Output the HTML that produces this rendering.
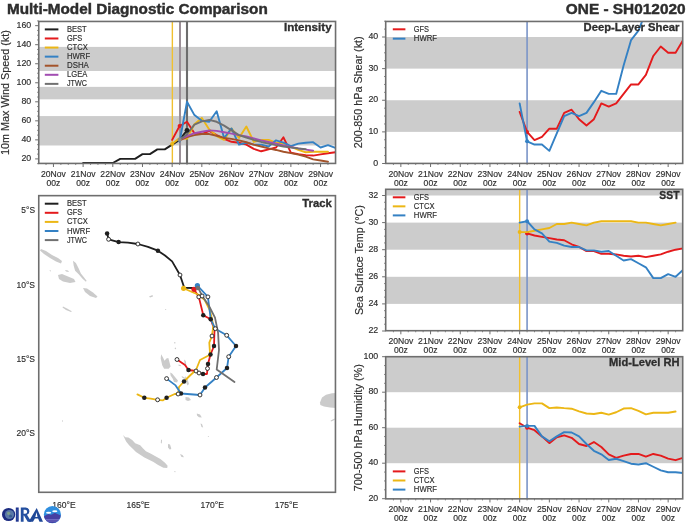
<!DOCTYPE html><html><head><meta charset="utf-8"><style>html,body{margin:0;padding:0;background:#fff;}svg{display:block;}</style></head><body>
<svg width="700" height="525" viewBox="0 0 700 525" style="will-change:transform" font-family='"Liberation Sans", sans-serif'>
<rect width="700" height="525" fill="#fff"/>
<text x="7" y="13.9" font-size="14.3" text-anchor="start" font-weight="bold" fill="#2e2e2e" textLength="260.72" lengthAdjust="spacingAndGlyphs" stroke="#2e2e2e" stroke-width="0.43">Multi-Model Diagnostic Comparison</text>
<text x="685.6" y="13.9" font-size="14.3" text-anchor="end" font-weight="bold" fill="#2e2e2e" textLength="119.77" lengthAdjust="spacingAndGlyphs" stroke="#2e2e2e" stroke-width="0.43">ONE - SH012020</text>
<rect x="38.75" y="116.08" width="296.8" height="29.41" fill="#cccccc"/>
<rect x="38.75" y="86.86" width="296.8" height="12.47" fill="#cccccc"/>
<rect x="38.75" y="46.89" width="296.8" height="24.08" fill="#cccccc"/>
<line x1="172.36" y1="21.45" x2="172.36" y2="163.43" stroke="#f0c030" stroke-width="1.4"/>
<line x1="179.98" y1="21.45" x2="179.98" y2="163.43" stroke="#9c9098" stroke-width="2"/>
<line x1="187" y1="21.45" x2="187" y2="163.43" stroke="#6d6d6d" stroke-width="2.1"/>
<svg x="38.75" y="21.45" width="296.8" height="143.48" overflow="hidden"><g transform="translate(-38.75,-21.45)">
<polyline points="83.12,162.99 90.54,162.99 97.96,162.99 105.38,162.99 112.8,162.99 120.22,158.9 127.64,158.9 135.06,158.9 142.48,154.14 149.9,154.14 157.32,149.38 164.74,149.38 172.16,144.63 179.58,139.87 187,130.35" fill="none" stroke="#1f1f1f" stroke-width="1.9" stroke-linejoin="round" stroke-linecap="round"/>
<polyline points="172.16,139.87 179.58,126.07 187,121.79 194.42,133.21 201.84,134.16 209.26,130.83 216.68,135.11 224.1,138.92 231.52,141.77 238.94,142.72 246.36,144.63 253.78,148.91 261.2,151.29 268.62,149.38 276.04,147.48 283.46,137.3 290.88,152.71 298.3,154.14 305.72,155.09 313.14,155.57 320.56,154.33 327.98,153.19 335.4,152.24" fill="none" stroke="#e41a1c" stroke-width="1.9" stroke-linejoin="round" stroke-linecap="round"/>
<circle cx="179.58" cy="126.07" r="2" fill="#e41a1c"/>
<polyline points="172.16,144.05 179.58,137.96 187,138.92 194.42,124.17 201.84,117.98 209.26,129.4 216.68,136.06 224.1,139.87 231.52,128.45 238.94,137.96 246.36,126.54 253.78,141.77 261.2,139.87 268.62,139.87 276.04,142.72 283.46,143.67 290.88,146.53 298.3,149.86 305.72,152.24 313.14,151.76 320.56,151.76 327.98,151.76" fill="none" stroke="#ecb715" stroke-width="1.9" stroke-linejoin="round" stroke-linecap="round"/>
<circle cx="172.16" cy="144.05" r="2" fill="#ecb715"/>
<polyline points="179.58,141.77 187,101.8 194.42,115.12 201.84,120.83 209.26,121.79 216.68,111.32 224.1,137.96 231.52,128.45 238.94,144.63 246.36,142.72 253.78,144.63 261.2,144.63 268.62,146.53 276.04,140.34 283.46,142.72 290.88,146.05 298.3,143.67 305.72,142.72 313.14,142.15 320.56,147.48 327.98,145.1 335.4,147.96" fill="none" stroke="#3481c4" stroke-width="1.9" stroke-linejoin="round" stroke-linecap="round"/>
<polyline points="179.58,140.34 187,137.01 194.42,135.11 201.84,134.06 209.26,134.06 216.68,135.78 224.1,137.96 231.52,138.92 238.94,140.34 246.36,142.25 253.78,144.63 261.2,146.53 268.62,148.43 276.04,149.95 283.46,151.76 290.88,153.19 298.3,154.62 305.72,156.52 313.14,159.38 320.56,160.52 327.98,161.75" fill="none" stroke="#a3532a" stroke-width="1.9" stroke-linejoin="round" stroke-linecap="round"/>
<polyline points="179.58,139.39 187,136.06 194.42,133.21 201.84,131.78 209.26,130.35 216.68,130.92 224.1,132.25 231.52,133.68 238.94,135.11 246.36,136.54 253.78,138.44 261.2,140.34 268.62,141.96 276.04,143.67 283.46,145.39 290.88,147 298.3,148.43 305.72,149.57 313.14,150.72" fill="none" stroke="#a24db2" stroke-width="1.9" stroke-linejoin="round" stroke-linecap="round"/>
<polyline points="179.58,139.87 187,134.16 194.42,124.64 201.84,121.31 209.26,119.88 216.68,121.79 224.1,125.59 231.52,130.35 238.94,135.11 246.36,137.49 253.78,139.87 261.2,141.96 268.62,143.67 276.04,145.1 283.46,146.53 290.88,147.48 298.3,148.43 305.72,149.1" fill="none" stroke="#707070" stroke-width="1.9" stroke-linejoin="round" stroke-linecap="round"/>
<circle cx="179.58" cy="139.87" r="2" fill="#8a8a8a"/>
<circle cx="187" cy="130.35" r="2.4" fill="#1f1f1f"/>
</g></svg>
<rect x="38.75" y="21.45" width="296.8" height="141.98" fill="none" stroke="#6e6e6e" stroke-width="1.6"/>
<line x1="37.05" y1="163.66" x2="38.75" y2="163.66" stroke="#6e6e6e" stroke-width="0.8"/>
<line x1="37.05" y1="154.14" x2="38.75" y2="154.14" stroke="#6e6e6e" stroke-width="0.8"/>
<line x1="37.05" y1="149.38" x2="38.75" y2="149.38" stroke="#6e6e6e" stroke-width="0.8"/>
<line x1="37.05" y1="144.63" x2="38.75" y2="144.63" stroke="#6e6e6e" stroke-width="0.8"/>
<line x1="37.05" y1="135.11" x2="38.75" y2="135.11" stroke="#6e6e6e" stroke-width="0.8"/>
<line x1="37.05" y1="130.35" x2="38.75" y2="130.35" stroke="#6e6e6e" stroke-width="0.8"/>
<line x1="37.05" y1="125.59" x2="38.75" y2="125.59" stroke="#6e6e6e" stroke-width="0.8"/>
<line x1="37.05" y1="116.08" x2="38.75" y2="116.08" stroke="#6e6e6e" stroke-width="0.8"/>
<line x1="37.05" y1="111.32" x2="38.75" y2="111.32" stroke="#6e6e6e" stroke-width="0.8"/>
<line x1="37.05" y1="106.56" x2="38.75" y2="106.56" stroke="#6e6e6e" stroke-width="0.8"/>
<line x1="37.05" y1="97.04" x2="38.75" y2="97.04" stroke="#6e6e6e" stroke-width="0.8"/>
<line x1="37.05" y1="92.28" x2="38.75" y2="92.28" stroke="#6e6e6e" stroke-width="0.8"/>
<line x1="37.05" y1="87.53" x2="38.75" y2="87.53" stroke="#6e6e6e" stroke-width="0.8"/>
<line x1="37.05" y1="78.01" x2="38.75" y2="78.01" stroke="#6e6e6e" stroke-width="0.8"/>
<line x1="37.05" y1="73.25" x2="38.75" y2="73.25" stroke="#6e6e6e" stroke-width="0.8"/>
<line x1="37.05" y1="68.49" x2="38.75" y2="68.49" stroke="#6e6e6e" stroke-width="0.8"/>
<line x1="37.05" y1="58.98" x2="38.75" y2="58.98" stroke="#6e6e6e" stroke-width="0.8"/>
<line x1="37.05" y1="54.22" x2="38.75" y2="54.22" stroke="#6e6e6e" stroke-width="0.8"/>
<line x1="37.05" y1="49.46" x2="38.75" y2="49.46" stroke="#6e6e6e" stroke-width="0.8"/>
<line x1="37.05" y1="39.94" x2="38.75" y2="39.94" stroke="#6e6e6e" stroke-width="0.8"/>
<line x1="37.05" y1="35.19" x2="38.75" y2="35.19" stroke="#6e6e6e" stroke-width="0.8"/>
<line x1="37.05" y1="30.43" x2="38.75" y2="30.43" stroke="#6e6e6e" stroke-width="0.8"/>
<line x1="37.05" y1="20.91" x2="38.75" y2="20.91" stroke="#6e6e6e" stroke-width="0.8"/>
<line x1="35.15" y1="158.9" x2="38.75" y2="158.9" stroke="#6e6e6e" stroke-width="1"/>
<text x="31.25" y="161" font-size="8.16" text-anchor="end" font-weight="normal" fill="#2e2e2e" textLength="9.8" lengthAdjust="spacingAndGlyphs" stroke="#2e2e2e" stroke-width="0.15">20</text>
<line x1="35.15" y1="139.87" x2="38.75" y2="139.87" stroke="#6e6e6e" stroke-width="1"/>
<text x="31.25" y="141.97" font-size="8.16" text-anchor="end" font-weight="normal" fill="#2e2e2e" textLength="9.8" lengthAdjust="spacingAndGlyphs" stroke="#2e2e2e" stroke-width="0.15">40</text>
<line x1="35.15" y1="120.83" x2="38.75" y2="120.83" stroke="#6e6e6e" stroke-width="1"/>
<text x="31.25" y="122.93" font-size="8.16" text-anchor="end" font-weight="normal" fill="#2e2e2e" textLength="9.8" lengthAdjust="spacingAndGlyphs" stroke="#2e2e2e" stroke-width="0.15">60</text>
<line x1="35.15" y1="101.8" x2="38.75" y2="101.8" stroke="#6e6e6e" stroke-width="1"/>
<text x="31.25" y="103.9" font-size="8.16" text-anchor="end" font-weight="normal" fill="#2e2e2e" textLength="9.8" lengthAdjust="spacingAndGlyphs" stroke="#2e2e2e" stroke-width="0.15">80</text>
<line x1="35.15" y1="82.77" x2="38.75" y2="82.77" stroke="#6e6e6e" stroke-width="1"/>
<text x="31.25" y="84.87" font-size="8.16" text-anchor="end" font-weight="normal" fill="#2e2e2e" textLength="14.7" lengthAdjust="spacingAndGlyphs" stroke="#2e2e2e" stroke-width="0.15">100</text>
<line x1="35.15" y1="63.74" x2="38.75" y2="63.74" stroke="#6e6e6e" stroke-width="1"/>
<text x="31.25" y="65.84" font-size="8.16" text-anchor="end" font-weight="normal" fill="#2e2e2e" textLength="14.7" lengthAdjust="spacingAndGlyphs" stroke="#2e2e2e" stroke-width="0.15">120</text>
<line x1="35.15" y1="44.7" x2="38.75" y2="44.7" stroke="#6e6e6e" stroke-width="1"/>
<text x="31.25" y="46.8" font-size="8.16" text-anchor="end" font-weight="normal" fill="#2e2e2e" textLength="14.7" lengthAdjust="spacingAndGlyphs" stroke="#2e2e2e" stroke-width="0.15">140</text>
<line x1="35.15" y1="25.67" x2="38.75" y2="25.67" stroke="#6e6e6e" stroke-width="1"/>
<text x="31.25" y="27.77" font-size="8.16" text-anchor="end" font-weight="normal" fill="#2e2e2e" textLength="14.7" lengthAdjust="spacingAndGlyphs" stroke="#2e2e2e" stroke-width="0.15">160</text>
<line x1="46.02" y1="163.43" x2="46.02" y2="165.03" stroke="#6e6e6e" stroke-width="0.8"/>
<line x1="53.44" y1="163.43" x2="53.44" y2="167.03" stroke="#6e6e6e" stroke-width="1"/>
<line x1="60.86" y1="163.43" x2="60.86" y2="165.03" stroke="#6e6e6e" stroke-width="0.8"/>
<line x1="68.28" y1="163.43" x2="68.28" y2="165.03" stroke="#6e6e6e" stroke-width="0.8"/>
<line x1="75.7" y1="163.43" x2="75.7" y2="165.03" stroke="#6e6e6e" stroke-width="0.8"/>
<line x1="83.12" y1="163.43" x2="83.12" y2="167.03" stroke="#6e6e6e" stroke-width="1"/>
<line x1="90.54" y1="163.43" x2="90.54" y2="165.03" stroke="#6e6e6e" stroke-width="0.8"/>
<line x1="97.96" y1="163.43" x2="97.96" y2="165.03" stroke="#6e6e6e" stroke-width="0.8"/>
<line x1="105.38" y1="163.43" x2="105.38" y2="165.03" stroke="#6e6e6e" stroke-width="0.8"/>
<line x1="112.8" y1="163.43" x2="112.8" y2="167.03" stroke="#6e6e6e" stroke-width="1"/>
<line x1="120.22" y1="163.43" x2="120.22" y2="165.03" stroke="#6e6e6e" stroke-width="0.8"/>
<line x1="127.64" y1="163.43" x2="127.64" y2="165.03" stroke="#6e6e6e" stroke-width="0.8"/>
<line x1="135.06" y1="163.43" x2="135.06" y2="165.03" stroke="#6e6e6e" stroke-width="0.8"/>
<line x1="142.48" y1="163.43" x2="142.48" y2="167.03" stroke="#6e6e6e" stroke-width="1"/>
<line x1="149.9" y1="163.43" x2="149.9" y2="165.03" stroke="#6e6e6e" stroke-width="0.8"/>
<line x1="157.32" y1="163.43" x2="157.32" y2="165.03" stroke="#6e6e6e" stroke-width="0.8"/>
<line x1="164.74" y1="163.43" x2="164.74" y2="165.03" stroke="#6e6e6e" stroke-width="0.8"/>
<line x1="172.16" y1="163.43" x2="172.16" y2="167.03" stroke="#6e6e6e" stroke-width="1"/>
<line x1="179.58" y1="163.43" x2="179.58" y2="165.03" stroke="#6e6e6e" stroke-width="0.8"/>
<line x1="187" y1="163.43" x2="187" y2="165.03" stroke="#6e6e6e" stroke-width="0.8"/>
<line x1="194.42" y1="163.43" x2="194.42" y2="165.03" stroke="#6e6e6e" stroke-width="0.8"/>
<line x1="201.84" y1="163.43" x2="201.84" y2="167.03" stroke="#6e6e6e" stroke-width="1"/>
<line x1="209.26" y1="163.43" x2="209.26" y2="165.03" stroke="#6e6e6e" stroke-width="0.8"/>
<line x1="216.68" y1="163.43" x2="216.68" y2="165.03" stroke="#6e6e6e" stroke-width="0.8"/>
<line x1="224.1" y1="163.43" x2="224.1" y2="165.03" stroke="#6e6e6e" stroke-width="0.8"/>
<line x1="231.52" y1="163.43" x2="231.52" y2="167.03" stroke="#6e6e6e" stroke-width="1"/>
<line x1="238.94" y1="163.43" x2="238.94" y2="165.03" stroke="#6e6e6e" stroke-width="0.8"/>
<line x1="246.36" y1="163.43" x2="246.36" y2="165.03" stroke="#6e6e6e" stroke-width="0.8"/>
<line x1="253.78" y1="163.43" x2="253.78" y2="165.03" stroke="#6e6e6e" stroke-width="0.8"/>
<line x1="261.2" y1="163.43" x2="261.2" y2="167.03" stroke="#6e6e6e" stroke-width="1"/>
<line x1="268.62" y1="163.43" x2="268.62" y2="165.03" stroke="#6e6e6e" stroke-width="0.8"/>
<line x1="276.04" y1="163.43" x2="276.04" y2="165.03" stroke="#6e6e6e" stroke-width="0.8"/>
<line x1="283.46" y1="163.43" x2="283.46" y2="165.03" stroke="#6e6e6e" stroke-width="0.8"/>
<line x1="290.88" y1="163.43" x2="290.88" y2="167.03" stroke="#6e6e6e" stroke-width="1"/>
<line x1="298.3" y1="163.43" x2="298.3" y2="165.03" stroke="#6e6e6e" stroke-width="0.8"/>
<line x1="305.72" y1="163.43" x2="305.72" y2="165.03" stroke="#6e6e6e" stroke-width="0.8"/>
<line x1="313.14" y1="163.43" x2="313.14" y2="165.03" stroke="#6e6e6e" stroke-width="0.8"/>
<line x1="320.56" y1="163.43" x2="320.56" y2="167.03" stroke="#6e6e6e" stroke-width="1"/>
<line x1="327.98" y1="163.43" x2="327.98" y2="165.03" stroke="#6e6e6e" stroke-width="0.8"/>
<text x="53.44" y="176.83" font-size="8.16" text-anchor="middle" font-weight="normal" fill="#2e2e2e" textLength="24.83" lengthAdjust="spacingAndGlyphs" stroke="#2e2e2e" stroke-width="0.15">20Nov</text>
<text x="53.44" y="185.73" font-size="8.16" text-anchor="middle" font-weight="normal" fill="#2e2e2e" textLength="13.84" lengthAdjust="spacingAndGlyphs" stroke="#2e2e2e" stroke-width="0.15">00z</text>
<text x="83.12" y="176.83" font-size="8.16" text-anchor="middle" font-weight="normal" fill="#2e2e2e" textLength="24.83" lengthAdjust="spacingAndGlyphs" stroke="#2e2e2e" stroke-width="0.15">21Nov</text>
<text x="83.12" y="185.73" font-size="8.16" text-anchor="middle" font-weight="normal" fill="#2e2e2e" textLength="13.84" lengthAdjust="spacingAndGlyphs" stroke="#2e2e2e" stroke-width="0.15">00z</text>
<text x="112.8" y="176.83" font-size="8.16" text-anchor="middle" font-weight="normal" fill="#2e2e2e" textLength="24.83" lengthAdjust="spacingAndGlyphs" stroke="#2e2e2e" stroke-width="0.15">22Nov</text>
<text x="112.8" y="185.73" font-size="8.16" text-anchor="middle" font-weight="normal" fill="#2e2e2e" textLength="13.84" lengthAdjust="spacingAndGlyphs" stroke="#2e2e2e" stroke-width="0.15">00z</text>
<text x="142.48" y="176.83" font-size="8.16" text-anchor="middle" font-weight="normal" fill="#2e2e2e" textLength="24.83" lengthAdjust="spacingAndGlyphs" stroke="#2e2e2e" stroke-width="0.15">23Nov</text>
<text x="142.48" y="185.73" font-size="8.16" text-anchor="middle" font-weight="normal" fill="#2e2e2e" textLength="13.84" lengthAdjust="spacingAndGlyphs" stroke="#2e2e2e" stroke-width="0.15">00z</text>
<text x="172.16" y="176.83" font-size="8.16" text-anchor="middle" font-weight="normal" fill="#2e2e2e" textLength="24.83" lengthAdjust="spacingAndGlyphs" stroke="#2e2e2e" stroke-width="0.15">24Nov</text>
<text x="172.16" y="185.73" font-size="8.16" text-anchor="middle" font-weight="normal" fill="#2e2e2e" textLength="13.84" lengthAdjust="spacingAndGlyphs" stroke="#2e2e2e" stroke-width="0.15">00z</text>
<text x="201.84" y="176.83" font-size="8.16" text-anchor="middle" font-weight="normal" fill="#2e2e2e" textLength="24.83" lengthAdjust="spacingAndGlyphs" stroke="#2e2e2e" stroke-width="0.15">25Nov</text>
<text x="201.84" y="185.73" font-size="8.16" text-anchor="middle" font-weight="normal" fill="#2e2e2e" textLength="13.84" lengthAdjust="spacingAndGlyphs" stroke="#2e2e2e" stroke-width="0.15">00z</text>
<text x="231.52" y="176.83" font-size="8.16" text-anchor="middle" font-weight="normal" fill="#2e2e2e" textLength="24.83" lengthAdjust="spacingAndGlyphs" stroke="#2e2e2e" stroke-width="0.15">26Nov</text>
<text x="231.52" y="185.73" font-size="8.16" text-anchor="middle" font-weight="normal" fill="#2e2e2e" textLength="13.84" lengthAdjust="spacingAndGlyphs" stroke="#2e2e2e" stroke-width="0.15">00z</text>
<text x="261.2" y="176.83" font-size="8.16" text-anchor="middle" font-weight="normal" fill="#2e2e2e" textLength="24.83" lengthAdjust="spacingAndGlyphs" stroke="#2e2e2e" stroke-width="0.15">27Nov</text>
<text x="261.2" y="185.73" font-size="8.16" text-anchor="middle" font-weight="normal" fill="#2e2e2e" textLength="13.84" lengthAdjust="spacingAndGlyphs" stroke="#2e2e2e" stroke-width="0.15">00z</text>
<text x="290.88" y="176.83" font-size="8.16" text-anchor="middle" font-weight="normal" fill="#2e2e2e" textLength="24.83" lengthAdjust="spacingAndGlyphs" stroke="#2e2e2e" stroke-width="0.15">28Nov</text>
<text x="290.88" y="185.73" font-size="8.16" text-anchor="middle" font-weight="normal" fill="#2e2e2e" textLength="13.84" lengthAdjust="spacingAndGlyphs" stroke="#2e2e2e" stroke-width="0.15">00z</text>
<text x="320.56" y="176.83" font-size="8.16" text-anchor="middle" font-weight="normal" fill="#2e2e2e" textLength="24.83" lengthAdjust="spacingAndGlyphs" stroke="#2e2e2e" stroke-width="0.15">29Nov</text>
<text x="320.56" y="185.73" font-size="8.16" text-anchor="middle" font-weight="normal" fill="#2e2e2e" textLength="13.84" lengthAdjust="spacingAndGlyphs" stroke="#2e2e2e" stroke-width="0.15">00z</text>
<text x="331.6" y="30.8" font-size="10.45" text-anchor="end" font-weight="bold" fill="#2e2e2e" textLength="47.69" lengthAdjust="spacingAndGlyphs" stroke="#2e2e2e" stroke-width="0.31">Intensity</text>
<text transform="translate(8.9,92.6) rotate(-90)" font-size="10.18" text-anchor="middle" fill="#2e2e2e" stroke="#2e2e2e" stroke-width="0.15" textLength="124.87" lengthAdjust="spacingAndGlyphs">10m Max Wind Speed (kt)</text>
<line x1="44.8" y1="29.4" x2="58.4" y2="29.4" stroke="#1f1f1f" stroke-width="2.0"/>
<text x="67" y="31.9" font-size="8.16" text-anchor="start" font-weight="normal" fill="#2e2e2e" textLength="19.74" lengthAdjust="spacingAndGlyphs" stroke="#2e2e2e" stroke-width="0.15">BEST</text>
<line x1="44.8" y1="38.48" x2="58.4" y2="38.48" stroke="#e41a1c" stroke-width="2.0"/>
<text x="67" y="40.98" font-size="8.16" text-anchor="start" font-weight="normal" fill="#2e2e2e" textLength="15.28" lengthAdjust="spacingAndGlyphs" stroke="#2e2e2e" stroke-width="0.15">GFS</text>
<line x1="44.8" y1="47.56" x2="58.4" y2="47.56" stroke="#ecb715" stroke-width="2.0"/>
<text x="67" y="50.06" font-size="8.16" text-anchor="start" font-weight="normal" fill="#2e2e2e" textLength="20.73" lengthAdjust="spacingAndGlyphs" stroke="#2e2e2e" stroke-width="0.15">CTCX</text>
<line x1="44.8" y1="56.64" x2="58.4" y2="56.64" stroke="#3481c4" stroke-width="2.0"/>
<text x="67" y="59.14" font-size="8.16" text-anchor="start" font-weight="normal" fill="#2e2e2e" textLength="23.18" lengthAdjust="spacingAndGlyphs" stroke="#2e2e2e" stroke-width="0.15">HWRF</text>
<line x1="44.8" y1="65.72" x2="58.4" y2="65.72" stroke="#a3532a" stroke-width="2.0"/>
<text x="67" y="68.22" font-size="8.16" text-anchor="start" font-weight="normal" fill="#2e2e2e" textLength="21.87" lengthAdjust="spacingAndGlyphs" stroke="#2e2e2e" stroke-width="0.15">DSHA</text>
<line x1="44.8" y1="74.8" x2="58.4" y2="74.8" stroke="#a24db2" stroke-width="2.0"/>
<text x="67" y="77.3" font-size="8.16" text-anchor="start" font-weight="normal" fill="#2e2e2e" textLength="20.39" lengthAdjust="spacingAndGlyphs" stroke="#2e2e2e" stroke-width="0.15">LGEA</text>
<line x1="44.8" y1="83.88" x2="58.4" y2="83.88" stroke="#707070" stroke-width="2.0"/>
<text x="67" y="86.38" font-size="8.16" text-anchor="start" font-weight="normal" fill="#2e2e2e" textLength="19.96" lengthAdjust="spacingAndGlyphs" stroke="#2e2e2e" stroke-width="0.15">JTWC</text>
<rect x="385.7" y="100.25" width="297" height="31.62" fill="#cccccc"/>
<rect x="385.7" y="37" width="297" height="31.62" fill="#cccccc"/>
<line x1="527.08" y1="21.45" x2="527.08" y2="163.43" stroke="#7a95c8" stroke-width="1.6"/>
<svg x="385.7" y="21.45" width="297" height="141.98" overflow="hidden"><g transform="translate(-385.7,-21.45)">
<polyline points="519.65,111.95 527.08,131.88 534.5,140.1 541.93,136.94 549.35,128.71 556.78,128.71 564.2,112.9 571.62,109.74 579.05,119.22 586.48,125.55 593.9,119.22 601.33,103.41 608.75,106.58 616.18,103.41 623.6,93.92 631.03,84.44 638.45,84.44 645.88,74.95 653.3,55.97 660.73,46.49 668.15,52.81 675.58,52.81 683,40.16" fill="none" stroke="#e41a1c" stroke-width="1.9" stroke-linejoin="round" stroke-linecap="round"/>
<circle cx="527.08" cy="131.88" r="2" fill="#e41a1c"/>
<polyline points="519.65,103.41 527.08,141.36 534.5,144.53 541.93,144.53 549.35,150.85 556.78,133.46 564.2,116.06 571.62,112.9 579.05,116.06 586.48,112.9 593.9,102.15 601.33,90.76 608.75,93.92 616.18,93.92 623.6,65.46 631.03,40.16 638.45,30.68 645.88,11.7" fill="none" stroke="#3481c4" stroke-width="1.9" stroke-linejoin="round" stroke-linecap="round"/>
<circle cx="527.08" cy="141.36" r="2" fill="#3481c4"/>
</g></svg>
<rect x="385.7" y="21.45" width="297" height="141.98" fill="none" stroke="#6e6e6e" stroke-width="1.6"/>
<line x1="384" y1="155.59" x2="385.7" y2="155.59" stroke="#6e6e6e" stroke-width="0.8"/>
<line x1="384" y1="147.69" x2="385.7" y2="147.69" stroke="#6e6e6e" stroke-width="0.8"/>
<line x1="384" y1="139.78" x2="385.7" y2="139.78" stroke="#6e6e6e" stroke-width="0.8"/>
<line x1="384" y1="123.97" x2="385.7" y2="123.97" stroke="#6e6e6e" stroke-width="0.8"/>
<line x1="384" y1="116.06" x2="385.7" y2="116.06" stroke="#6e6e6e" stroke-width="0.8"/>
<line x1="384" y1="108.16" x2="385.7" y2="108.16" stroke="#6e6e6e" stroke-width="0.8"/>
<line x1="384" y1="92.34" x2="385.7" y2="92.34" stroke="#6e6e6e" stroke-width="0.8"/>
<line x1="384" y1="84.44" x2="385.7" y2="84.44" stroke="#6e6e6e" stroke-width="0.8"/>
<line x1="384" y1="76.53" x2="385.7" y2="76.53" stroke="#6e6e6e" stroke-width="0.8"/>
<line x1="384" y1="60.72" x2="385.7" y2="60.72" stroke="#6e6e6e" stroke-width="0.8"/>
<line x1="384" y1="52.81" x2="385.7" y2="52.81" stroke="#6e6e6e" stroke-width="0.8"/>
<line x1="384" y1="44.91" x2="385.7" y2="44.91" stroke="#6e6e6e" stroke-width="0.8"/>
<line x1="384" y1="29.09" x2="385.7" y2="29.09" stroke="#6e6e6e" stroke-width="0.8"/>
<line x1="384" y1="21.19" x2="385.7" y2="21.19" stroke="#6e6e6e" stroke-width="0.8"/>
<line x1="382.1" y1="163.5" x2="385.7" y2="163.5" stroke="#6e6e6e" stroke-width="1"/>
<text x="378.2" y="165.6" font-size="8.16" text-anchor="end" font-weight="normal" fill="#2e2e2e" textLength="4.9" lengthAdjust="spacingAndGlyphs" stroke="#2e2e2e" stroke-width="0.15">0</text>
<line x1="382.1" y1="131.88" x2="385.7" y2="131.88" stroke="#6e6e6e" stroke-width="1"/>
<text x="378.2" y="133.97" font-size="8.16" text-anchor="end" font-weight="normal" fill="#2e2e2e" textLength="9.8" lengthAdjust="spacingAndGlyphs" stroke="#2e2e2e" stroke-width="0.15">10</text>
<line x1="382.1" y1="100.25" x2="385.7" y2="100.25" stroke="#6e6e6e" stroke-width="1"/>
<text x="378.2" y="102.35" font-size="8.16" text-anchor="end" font-weight="normal" fill="#2e2e2e" textLength="9.8" lengthAdjust="spacingAndGlyphs" stroke="#2e2e2e" stroke-width="0.15">20</text>
<line x1="382.1" y1="68.62" x2="385.7" y2="68.62" stroke="#6e6e6e" stroke-width="1"/>
<text x="378.2" y="70.72" font-size="8.16" text-anchor="end" font-weight="normal" fill="#2e2e2e" textLength="9.8" lengthAdjust="spacingAndGlyphs" stroke="#2e2e2e" stroke-width="0.15">30</text>
<line x1="382.1" y1="37" x2="385.7" y2="37" stroke="#6e6e6e" stroke-width="1"/>
<text x="378.2" y="39.1" font-size="8.16" text-anchor="end" font-weight="normal" fill="#2e2e2e" textLength="9.8" lengthAdjust="spacingAndGlyphs" stroke="#2e2e2e" stroke-width="0.15">40</text>
<line x1="393.43" y1="163.43" x2="393.43" y2="165.03" stroke="#6e6e6e" stroke-width="0.8"/>
<line x1="400.85" y1="163.43" x2="400.85" y2="167.03" stroke="#6e6e6e" stroke-width="1"/>
<line x1="408.27" y1="163.43" x2="408.27" y2="165.03" stroke="#6e6e6e" stroke-width="0.8"/>
<line x1="415.7" y1="163.43" x2="415.7" y2="165.03" stroke="#6e6e6e" stroke-width="0.8"/>
<line x1="423.12" y1="163.43" x2="423.12" y2="165.03" stroke="#6e6e6e" stroke-width="0.8"/>
<line x1="430.55" y1="163.43" x2="430.55" y2="167.03" stroke="#6e6e6e" stroke-width="1"/>
<line x1="437.98" y1="163.43" x2="437.98" y2="165.03" stroke="#6e6e6e" stroke-width="0.8"/>
<line x1="445.4" y1="163.43" x2="445.4" y2="165.03" stroke="#6e6e6e" stroke-width="0.8"/>
<line x1="452.83" y1="163.43" x2="452.83" y2="165.03" stroke="#6e6e6e" stroke-width="0.8"/>
<line x1="460.25" y1="163.43" x2="460.25" y2="167.03" stroke="#6e6e6e" stroke-width="1"/>
<line x1="467.68" y1="163.43" x2="467.68" y2="165.03" stroke="#6e6e6e" stroke-width="0.8"/>
<line x1="475.1" y1="163.43" x2="475.1" y2="165.03" stroke="#6e6e6e" stroke-width="0.8"/>
<line x1="482.53" y1="163.43" x2="482.53" y2="165.03" stroke="#6e6e6e" stroke-width="0.8"/>
<line x1="489.95" y1="163.43" x2="489.95" y2="167.03" stroke="#6e6e6e" stroke-width="1"/>
<line x1="497.38" y1="163.43" x2="497.38" y2="165.03" stroke="#6e6e6e" stroke-width="0.8"/>
<line x1="504.8" y1="163.43" x2="504.8" y2="165.03" stroke="#6e6e6e" stroke-width="0.8"/>
<line x1="512.23" y1="163.43" x2="512.23" y2="165.03" stroke="#6e6e6e" stroke-width="0.8"/>
<line x1="519.65" y1="163.43" x2="519.65" y2="167.03" stroke="#6e6e6e" stroke-width="1"/>
<line x1="527.08" y1="163.43" x2="527.08" y2="165.03" stroke="#6e6e6e" stroke-width="0.8"/>
<line x1="534.5" y1="163.43" x2="534.5" y2="165.03" stroke="#6e6e6e" stroke-width="0.8"/>
<line x1="541.93" y1="163.43" x2="541.93" y2="165.03" stroke="#6e6e6e" stroke-width="0.8"/>
<line x1="549.35" y1="163.43" x2="549.35" y2="167.03" stroke="#6e6e6e" stroke-width="1"/>
<line x1="556.78" y1="163.43" x2="556.78" y2="165.03" stroke="#6e6e6e" stroke-width="0.8"/>
<line x1="564.2" y1="163.43" x2="564.2" y2="165.03" stroke="#6e6e6e" stroke-width="0.8"/>
<line x1="571.62" y1="163.43" x2="571.62" y2="165.03" stroke="#6e6e6e" stroke-width="0.8"/>
<line x1="579.05" y1="163.43" x2="579.05" y2="167.03" stroke="#6e6e6e" stroke-width="1"/>
<line x1="586.48" y1="163.43" x2="586.48" y2="165.03" stroke="#6e6e6e" stroke-width="0.8"/>
<line x1="593.9" y1="163.43" x2="593.9" y2="165.03" stroke="#6e6e6e" stroke-width="0.8"/>
<line x1="601.33" y1="163.43" x2="601.33" y2="165.03" stroke="#6e6e6e" stroke-width="0.8"/>
<line x1="608.75" y1="163.43" x2="608.75" y2="167.03" stroke="#6e6e6e" stroke-width="1"/>
<line x1="616.18" y1="163.43" x2="616.18" y2="165.03" stroke="#6e6e6e" stroke-width="0.8"/>
<line x1="623.6" y1="163.43" x2="623.6" y2="165.03" stroke="#6e6e6e" stroke-width="0.8"/>
<line x1="631.03" y1="163.43" x2="631.03" y2="165.03" stroke="#6e6e6e" stroke-width="0.8"/>
<line x1="638.45" y1="163.43" x2="638.45" y2="167.03" stroke="#6e6e6e" stroke-width="1"/>
<line x1="645.88" y1="163.43" x2="645.88" y2="165.03" stroke="#6e6e6e" stroke-width="0.8"/>
<line x1="653.3" y1="163.43" x2="653.3" y2="165.03" stroke="#6e6e6e" stroke-width="0.8"/>
<line x1="660.73" y1="163.43" x2="660.73" y2="165.03" stroke="#6e6e6e" stroke-width="0.8"/>
<line x1="668.15" y1="163.43" x2="668.15" y2="167.03" stroke="#6e6e6e" stroke-width="1"/>
<line x1="675.58" y1="163.43" x2="675.58" y2="165.03" stroke="#6e6e6e" stroke-width="0.8"/>
<text x="400.85" y="176.83" font-size="8.16" text-anchor="middle" font-weight="normal" fill="#2e2e2e" textLength="24.83" lengthAdjust="spacingAndGlyphs" stroke="#2e2e2e" stroke-width="0.15">20Nov</text>
<text x="400.85" y="185.73" font-size="8.16" text-anchor="middle" font-weight="normal" fill="#2e2e2e" textLength="13.84" lengthAdjust="spacingAndGlyphs" stroke="#2e2e2e" stroke-width="0.15">00z</text>
<text x="430.55" y="176.83" font-size="8.16" text-anchor="middle" font-weight="normal" fill="#2e2e2e" textLength="24.83" lengthAdjust="spacingAndGlyphs" stroke="#2e2e2e" stroke-width="0.15">21Nov</text>
<text x="430.55" y="185.73" font-size="8.16" text-anchor="middle" font-weight="normal" fill="#2e2e2e" textLength="13.84" lengthAdjust="spacingAndGlyphs" stroke="#2e2e2e" stroke-width="0.15">00z</text>
<text x="460.25" y="176.83" font-size="8.16" text-anchor="middle" font-weight="normal" fill="#2e2e2e" textLength="24.83" lengthAdjust="spacingAndGlyphs" stroke="#2e2e2e" stroke-width="0.15">22Nov</text>
<text x="460.25" y="185.73" font-size="8.16" text-anchor="middle" font-weight="normal" fill="#2e2e2e" textLength="13.84" lengthAdjust="spacingAndGlyphs" stroke="#2e2e2e" stroke-width="0.15">00z</text>
<text x="489.95" y="176.83" font-size="8.16" text-anchor="middle" font-weight="normal" fill="#2e2e2e" textLength="24.83" lengthAdjust="spacingAndGlyphs" stroke="#2e2e2e" stroke-width="0.15">23Nov</text>
<text x="489.95" y="185.73" font-size="8.16" text-anchor="middle" font-weight="normal" fill="#2e2e2e" textLength="13.84" lengthAdjust="spacingAndGlyphs" stroke="#2e2e2e" stroke-width="0.15">00z</text>
<text x="519.65" y="176.83" font-size="8.16" text-anchor="middle" font-weight="normal" fill="#2e2e2e" textLength="24.83" lengthAdjust="spacingAndGlyphs" stroke="#2e2e2e" stroke-width="0.15">24Nov</text>
<text x="519.65" y="185.73" font-size="8.16" text-anchor="middle" font-weight="normal" fill="#2e2e2e" textLength="13.84" lengthAdjust="spacingAndGlyphs" stroke="#2e2e2e" stroke-width="0.15">00z</text>
<text x="549.35" y="176.83" font-size="8.16" text-anchor="middle" font-weight="normal" fill="#2e2e2e" textLength="24.83" lengthAdjust="spacingAndGlyphs" stroke="#2e2e2e" stroke-width="0.15">25Nov</text>
<text x="549.35" y="185.73" font-size="8.16" text-anchor="middle" font-weight="normal" fill="#2e2e2e" textLength="13.84" lengthAdjust="spacingAndGlyphs" stroke="#2e2e2e" stroke-width="0.15">00z</text>
<text x="579.05" y="176.83" font-size="8.16" text-anchor="middle" font-weight="normal" fill="#2e2e2e" textLength="24.83" lengthAdjust="spacingAndGlyphs" stroke="#2e2e2e" stroke-width="0.15">26Nov</text>
<text x="579.05" y="185.73" font-size="8.16" text-anchor="middle" font-weight="normal" fill="#2e2e2e" textLength="13.84" lengthAdjust="spacingAndGlyphs" stroke="#2e2e2e" stroke-width="0.15">00z</text>
<text x="608.75" y="176.83" font-size="8.16" text-anchor="middle" font-weight="normal" fill="#2e2e2e" textLength="24.83" lengthAdjust="spacingAndGlyphs" stroke="#2e2e2e" stroke-width="0.15">27Nov</text>
<text x="608.75" y="185.73" font-size="8.16" text-anchor="middle" font-weight="normal" fill="#2e2e2e" textLength="13.84" lengthAdjust="spacingAndGlyphs" stroke="#2e2e2e" stroke-width="0.15">00z</text>
<text x="638.45" y="176.83" font-size="8.16" text-anchor="middle" font-weight="normal" fill="#2e2e2e" textLength="24.83" lengthAdjust="spacingAndGlyphs" stroke="#2e2e2e" stroke-width="0.15">28Nov</text>
<text x="638.45" y="185.73" font-size="8.16" text-anchor="middle" font-weight="normal" fill="#2e2e2e" textLength="13.84" lengthAdjust="spacingAndGlyphs" stroke="#2e2e2e" stroke-width="0.15">00z</text>
<text x="668.15" y="176.83" font-size="8.16" text-anchor="middle" font-weight="normal" fill="#2e2e2e" textLength="24.83" lengthAdjust="spacingAndGlyphs" stroke="#2e2e2e" stroke-width="0.15">29Nov</text>
<text x="668.15" y="185.73" font-size="8.16" text-anchor="middle" font-weight="normal" fill="#2e2e2e" textLength="13.84" lengthAdjust="spacingAndGlyphs" stroke="#2e2e2e" stroke-width="0.15">00z</text>
<text x="679.3" y="31.1" font-size="10.45" text-anchor="end" font-weight="bold" fill="#2e2e2e" textLength="95.75" lengthAdjust="spacingAndGlyphs" stroke="#2e2e2e" stroke-width="0.31">Deep-Layer Shear</text>
<text transform="translate(362.4,92.3) rotate(-90)" font-size="10.18" text-anchor="middle" fill="#2e2e2e" stroke="#2e2e2e" stroke-width="0.15" textLength="111.75" lengthAdjust="spacingAndGlyphs">200-850 hPa Shear (kt)</text>
<line x1="392.8" y1="29.3" x2="405.4" y2="29.3" stroke="#e41a1c" stroke-width="2.0"/>
<text x="413.8" y="31.8" font-size="8.16" text-anchor="start" font-weight="normal" fill="#2e2e2e" textLength="15.28" lengthAdjust="spacingAndGlyphs" stroke="#2e2e2e" stroke-width="0.15">GFS</text>
<line x1="392.8" y1="38.65" x2="405.4" y2="38.65" stroke="#3481c4" stroke-width="2.0"/>
<text x="413.8" y="41.15" font-size="8.16" text-anchor="start" font-weight="normal" fill="#2e2e2e" textLength="23.18" lengthAdjust="spacingAndGlyphs" stroke="#2e2e2e" stroke-width="0.15">HWRF</text>
<rect x="385.7" y="276.8" width="297" height="27.1" fill="#cccccc"/>
<rect x="385.7" y="222.6" width="297" height="27.1" fill="#cccccc"/>
<rect x="385.7" y="189.3" width="297" height="6.2" fill="#cccccc"/>
<line x1="519.65" y1="189.3" x2="519.65" y2="330.7" stroke="#f0c030" stroke-width="1.4"/>
<line x1="527.08" y1="189.3" x2="527.08" y2="330.7" stroke="#7a95c8" stroke-width="1.6"/>
<svg x="385.7" y="189.3" width="297" height="141.4" overflow="hidden"><g transform="translate(-385.7,-189.3)">
<polyline points="527.08,233.44 534.5,235.47 541.93,236.83 549.35,238.18 556.78,239.54 564.2,240.22 571.62,244.28 579.05,246.99 586.48,251.06 593.9,251.06 601.33,253.77 608.75,253.77 616.18,254.44 623.6,255.8 631.03,256.48 638.45,255.8 645.88,257.15 653.3,255.8 660.73,254.44 668.15,251.73 675.58,249.7 683,248.34" fill="none" stroke="#e41a1c" stroke-width="1.9" stroke-linejoin="round" stroke-linecap="round"/>
<circle cx="527.08" cy="233.44" r="2" fill="#e41a1c"/>
<polyline points="519.65,232.08 527.08,232.08 534.5,230.73 541.93,229.38 549.35,228.02 556.78,223.96 564.2,223.96 571.62,222.6 579.05,223.96 586.48,225.31 593.9,222.6 601.33,221.24 608.75,221.24 616.18,221.24 623.6,221.24 631.03,221.24 638.45,222.6 645.88,222.6 653.3,223.96 660.73,225.31 668.15,223.96 675.58,222.6" fill="none" stroke="#ecb715" stroke-width="1.9" stroke-linejoin="round" stroke-linecap="round"/>
<circle cx="519.65" cy="232.08" r="2" fill="#ecb715"/>
<polyline points="519.65,222.6 527.08,221.24 534.5,229.38 541.93,233.44 549.35,241.57 556.78,242.93 564.2,245.63 571.62,246.99 579.05,246.99 586.48,250.38 593.9,250.38 601.33,251.73 608.75,251.06 616.18,255.8 623.6,260.54 631.03,259.19 638.45,263.25 645.88,267.31 653.3,278.16 660.73,278.16 668.15,274.09 675.58,276.8 683,270.02" fill="none" stroke="#3481c4" stroke-width="1.9" stroke-linejoin="round" stroke-linecap="round"/>
<circle cx="527.08" cy="221.24" r="2" fill="#3481c4"/>
</g></svg>
<rect x="385.7" y="189.3" width="297" height="141.4" fill="none" stroke="#6e6e6e" stroke-width="1.6"/>
<line x1="384" y1="324.23" x2="385.7" y2="324.23" stroke="#6e6e6e" stroke-width="0.8"/>
<line x1="384" y1="317.45" x2="385.7" y2="317.45" stroke="#6e6e6e" stroke-width="0.8"/>
<line x1="384" y1="310.68" x2="385.7" y2="310.68" stroke="#6e6e6e" stroke-width="0.8"/>
<line x1="384" y1="297.12" x2="385.7" y2="297.12" stroke="#6e6e6e" stroke-width="0.8"/>
<line x1="384" y1="290.35" x2="385.7" y2="290.35" stroke="#6e6e6e" stroke-width="0.8"/>
<line x1="384" y1="283.57" x2="385.7" y2="283.57" stroke="#6e6e6e" stroke-width="0.8"/>
<line x1="384" y1="270.02" x2="385.7" y2="270.02" stroke="#6e6e6e" stroke-width="0.8"/>
<line x1="384" y1="263.25" x2="385.7" y2="263.25" stroke="#6e6e6e" stroke-width="0.8"/>
<line x1="384" y1="256.48" x2="385.7" y2="256.48" stroke="#6e6e6e" stroke-width="0.8"/>
<line x1="384" y1="242.93" x2="385.7" y2="242.93" stroke="#6e6e6e" stroke-width="0.8"/>
<line x1="384" y1="236.15" x2="385.7" y2="236.15" stroke="#6e6e6e" stroke-width="0.8"/>
<line x1="384" y1="229.38" x2="385.7" y2="229.38" stroke="#6e6e6e" stroke-width="0.8"/>
<line x1="384" y1="215.82" x2="385.7" y2="215.82" stroke="#6e6e6e" stroke-width="0.8"/>
<line x1="384" y1="209.05" x2="385.7" y2="209.05" stroke="#6e6e6e" stroke-width="0.8"/>
<line x1="384" y1="202.28" x2="385.7" y2="202.28" stroke="#6e6e6e" stroke-width="0.8"/>
<line x1="382.1" y1="331" x2="385.7" y2="331" stroke="#6e6e6e" stroke-width="1"/>
<text x="378.2" y="333.1" font-size="8.16" text-anchor="end" font-weight="normal" fill="#2e2e2e" textLength="9.8" lengthAdjust="spacingAndGlyphs" stroke="#2e2e2e" stroke-width="0.15">22</text>
<line x1="382.1" y1="303.9" x2="385.7" y2="303.9" stroke="#6e6e6e" stroke-width="1"/>
<text x="378.2" y="306" font-size="8.16" text-anchor="end" font-weight="normal" fill="#2e2e2e" textLength="9.8" lengthAdjust="spacingAndGlyphs" stroke="#2e2e2e" stroke-width="0.15">24</text>
<line x1="382.1" y1="276.8" x2="385.7" y2="276.8" stroke="#6e6e6e" stroke-width="1"/>
<text x="378.2" y="278.9" font-size="8.16" text-anchor="end" font-weight="normal" fill="#2e2e2e" textLength="9.8" lengthAdjust="spacingAndGlyphs" stroke="#2e2e2e" stroke-width="0.15">26</text>
<line x1="382.1" y1="249.7" x2="385.7" y2="249.7" stroke="#6e6e6e" stroke-width="1"/>
<text x="378.2" y="251.8" font-size="8.16" text-anchor="end" font-weight="normal" fill="#2e2e2e" textLength="9.8" lengthAdjust="spacingAndGlyphs" stroke="#2e2e2e" stroke-width="0.15">28</text>
<line x1="382.1" y1="222.6" x2="385.7" y2="222.6" stroke="#6e6e6e" stroke-width="1"/>
<text x="378.2" y="224.7" font-size="8.16" text-anchor="end" font-weight="normal" fill="#2e2e2e" textLength="9.8" lengthAdjust="spacingAndGlyphs" stroke="#2e2e2e" stroke-width="0.15">30</text>
<line x1="382.1" y1="195.5" x2="385.7" y2="195.5" stroke="#6e6e6e" stroke-width="1"/>
<text x="378.2" y="197.6" font-size="8.16" text-anchor="end" font-weight="normal" fill="#2e2e2e" textLength="9.8" lengthAdjust="spacingAndGlyphs" stroke="#2e2e2e" stroke-width="0.15">32</text>
<line x1="393.43" y1="330.7" x2="393.43" y2="332.3" stroke="#6e6e6e" stroke-width="0.8"/>
<line x1="400.85" y1="330.7" x2="400.85" y2="334.3" stroke="#6e6e6e" stroke-width="1"/>
<line x1="408.27" y1="330.7" x2="408.27" y2="332.3" stroke="#6e6e6e" stroke-width="0.8"/>
<line x1="415.7" y1="330.7" x2="415.7" y2="332.3" stroke="#6e6e6e" stroke-width="0.8"/>
<line x1="423.12" y1="330.7" x2="423.12" y2="332.3" stroke="#6e6e6e" stroke-width="0.8"/>
<line x1="430.55" y1="330.7" x2="430.55" y2="334.3" stroke="#6e6e6e" stroke-width="1"/>
<line x1="437.98" y1="330.7" x2="437.98" y2="332.3" stroke="#6e6e6e" stroke-width="0.8"/>
<line x1="445.4" y1="330.7" x2="445.4" y2="332.3" stroke="#6e6e6e" stroke-width="0.8"/>
<line x1="452.83" y1="330.7" x2="452.83" y2="332.3" stroke="#6e6e6e" stroke-width="0.8"/>
<line x1="460.25" y1="330.7" x2="460.25" y2="334.3" stroke="#6e6e6e" stroke-width="1"/>
<line x1="467.68" y1="330.7" x2="467.68" y2="332.3" stroke="#6e6e6e" stroke-width="0.8"/>
<line x1="475.1" y1="330.7" x2="475.1" y2="332.3" stroke="#6e6e6e" stroke-width="0.8"/>
<line x1="482.53" y1="330.7" x2="482.53" y2="332.3" stroke="#6e6e6e" stroke-width="0.8"/>
<line x1="489.95" y1="330.7" x2="489.95" y2="334.3" stroke="#6e6e6e" stroke-width="1"/>
<line x1="497.38" y1="330.7" x2="497.38" y2="332.3" stroke="#6e6e6e" stroke-width="0.8"/>
<line x1="504.8" y1="330.7" x2="504.8" y2="332.3" stroke="#6e6e6e" stroke-width="0.8"/>
<line x1="512.23" y1="330.7" x2="512.23" y2="332.3" stroke="#6e6e6e" stroke-width="0.8"/>
<line x1="519.65" y1="330.7" x2="519.65" y2="334.3" stroke="#6e6e6e" stroke-width="1"/>
<line x1="527.08" y1="330.7" x2="527.08" y2="332.3" stroke="#6e6e6e" stroke-width="0.8"/>
<line x1="534.5" y1="330.7" x2="534.5" y2="332.3" stroke="#6e6e6e" stroke-width="0.8"/>
<line x1="541.93" y1="330.7" x2="541.93" y2="332.3" stroke="#6e6e6e" stroke-width="0.8"/>
<line x1="549.35" y1="330.7" x2="549.35" y2="334.3" stroke="#6e6e6e" stroke-width="1"/>
<line x1="556.78" y1="330.7" x2="556.78" y2="332.3" stroke="#6e6e6e" stroke-width="0.8"/>
<line x1="564.2" y1="330.7" x2="564.2" y2="332.3" stroke="#6e6e6e" stroke-width="0.8"/>
<line x1="571.62" y1="330.7" x2="571.62" y2="332.3" stroke="#6e6e6e" stroke-width="0.8"/>
<line x1="579.05" y1="330.7" x2="579.05" y2="334.3" stroke="#6e6e6e" stroke-width="1"/>
<line x1="586.48" y1="330.7" x2="586.48" y2="332.3" stroke="#6e6e6e" stroke-width="0.8"/>
<line x1="593.9" y1="330.7" x2="593.9" y2="332.3" stroke="#6e6e6e" stroke-width="0.8"/>
<line x1="601.33" y1="330.7" x2="601.33" y2="332.3" stroke="#6e6e6e" stroke-width="0.8"/>
<line x1="608.75" y1="330.7" x2="608.75" y2="334.3" stroke="#6e6e6e" stroke-width="1"/>
<line x1="616.18" y1="330.7" x2="616.18" y2="332.3" stroke="#6e6e6e" stroke-width="0.8"/>
<line x1="623.6" y1="330.7" x2="623.6" y2="332.3" stroke="#6e6e6e" stroke-width="0.8"/>
<line x1="631.03" y1="330.7" x2="631.03" y2="332.3" stroke="#6e6e6e" stroke-width="0.8"/>
<line x1="638.45" y1="330.7" x2="638.45" y2="334.3" stroke="#6e6e6e" stroke-width="1"/>
<line x1="645.88" y1="330.7" x2="645.88" y2="332.3" stroke="#6e6e6e" stroke-width="0.8"/>
<line x1="653.3" y1="330.7" x2="653.3" y2="332.3" stroke="#6e6e6e" stroke-width="0.8"/>
<line x1="660.73" y1="330.7" x2="660.73" y2="332.3" stroke="#6e6e6e" stroke-width="0.8"/>
<line x1="668.15" y1="330.7" x2="668.15" y2="334.3" stroke="#6e6e6e" stroke-width="1"/>
<line x1="675.58" y1="330.7" x2="675.58" y2="332.3" stroke="#6e6e6e" stroke-width="0.8"/>
<text x="400.85" y="344.1" font-size="8.16" text-anchor="middle" font-weight="normal" fill="#2e2e2e" textLength="24.83" lengthAdjust="spacingAndGlyphs" stroke="#2e2e2e" stroke-width="0.15">20Nov</text>
<text x="400.85" y="353" font-size="8.16" text-anchor="middle" font-weight="normal" fill="#2e2e2e" textLength="13.84" lengthAdjust="spacingAndGlyphs" stroke="#2e2e2e" stroke-width="0.15">00z</text>
<text x="430.55" y="344.1" font-size="8.16" text-anchor="middle" font-weight="normal" fill="#2e2e2e" textLength="24.83" lengthAdjust="spacingAndGlyphs" stroke="#2e2e2e" stroke-width="0.15">21Nov</text>
<text x="430.55" y="353" font-size="8.16" text-anchor="middle" font-weight="normal" fill="#2e2e2e" textLength="13.84" lengthAdjust="spacingAndGlyphs" stroke="#2e2e2e" stroke-width="0.15">00z</text>
<text x="460.25" y="344.1" font-size="8.16" text-anchor="middle" font-weight="normal" fill="#2e2e2e" textLength="24.83" lengthAdjust="spacingAndGlyphs" stroke="#2e2e2e" stroke-width="0.15">22Nov</text>
<text x="460.25" y="353" font-size="8.16" text-anchor="middle" font-weight="normal" fill="#2e2e2e" textLength="13.84" lengthAdjust="spacingAndGlyphs" stroke="#2e2e2e" stroke-width="0.15">00z</text>
<text x="489.95" y="344.1" font-size="8.16" text-anchor="middle" font-weight="normal" fill="#2e2e2e" textLength="24.83" lengthAdjust="spacingAndGlyphs" stroke="#2e2e2e" stroke-width="0.15">23Nov</text>
<text x="489.95" y="353" font-size="8.16" text-anchor="middle" font-weight="normal" fill="#2e2e2e" textLength="13.84" lengthAdjust="spacingAndGlyphs" stroke="#2e2e2e" stroke-width="0.15">00z</text>
<text x="519.65" y="344.1" font-size="8.16" text-anchor="middle" font-weight="normal" fill="#2e2e2e" textLength="24.83" lengthAdjust="spacingAndGlyphs" stroke="#2e2e2e" stroke-width="0.15">24Nov</text>
<text x="519.65" y="353" font-size="8.16" text-anchor="middle" font-weight="normal" fill="#2e2e2e" textLength="13.84" lengthAdjust="spacingAndGlyphs" stroke="#2e2e2e" stroke-width="0.15">00z</text>
<text x="549.35" y="344.1" font-size="8.16" text-anchor="middle" font-weight="normal" fill="#2e2e2e" textLength="24.83" lengthAdjust="spacingAndGlyphs" stroke="#2e2e2e" stroke-width="0.15">25Nov</text>
<text x="549.35" y="353" font-size="8.16" text-anchor="middle" font-weight="normal" fill="#2e2e2e" textLength="13.84" lengthAdjust="spacingAndGlyphs" stroke="#2e2e2e" stroke-width="0.15">00z</text>
<text x="579.05" y="344.1" font-size="8.16" text-anchor="middle" font-weight="normal" fill="#2e2e2e" textLength="24.83" lengthAdjust="spacingAndGlyphs" stroke="#2e2e2e" stroke-width="0.15">26Nov</text>
<text x="579.05" y="353" font-size="8.16" text-anchor="middle" font-weight="normal" fill="#2e2e2e" textLength="13.84" lengthAdjust="spacingAndGlyphs" stroke="#2e2e2e" stroke-width="0.15">00z</text>
<text x="608.75" y="344.1" font-size="8.16" text-anchor="middle" font-weight="normal" fill="#2e2e2e" textLength="24.83" lengthAdjust="spacingAndGlyphs" stroke="#2e2e2e" stroke-width="0.15">27Nov</text>
<text x="608.75" y="353" font-size="8.16" text-anchor="middle" font-weight="normal" fill="#2e2e2e" textLength="13.84" lengthAdjust="spacingAndGlyphs" stroke="#2e2e2e" stroke-width="0.15">00z</text>
<text x="638.45" y="344.1" font-size="8.16" text-anchor="middle" font-weight="normal" fill="#2e2e2e" textLength="24.83" lengthAdjust="spacingAndGlyphs" stroke="#2e2e2e" stroke-width="0.15">28Nov</text>
<text x="638.45" y="353" font-size="8.16" text-anchor="middle" font-weight="normal" fill="#2e2e2e" textLength="13.84" lengthAdjust="spacingAndGlyphs" stroke="#2e2e2e" stroke-width="0.15">00z</text>
<text x="668.15" y="344.1" font-size="8.16" text-anchor="middle" font-weight="normal" fill="#2e2e2e" textLength="24.83" lengthAdjust="spacingAndGlyphs" stroke="#2e2e2e" stroke-width="0.15">29Nov</text>
<text x="668.15" y="353" font-size="8.16" text-anchor="middle" font-weight="normal" fill="#2e2e2e" textLength="13.84" lengthAdjust="spacingAndGlyphs" stroke="#2e2e2e" stroke-width="0.15">00z</text>
<text x="679.5" y="198.6" font-size="10.45" text-anchor="end" font-weight="bold" fill="#2e2e2e" textLength="20.16" lengthAdjust="spacingAndGlyphs" stroke="#2e2e2e" stroke-width="0.31">SST</text>
<text transform="translate(362.6,260.2) rotate(-90)" font-size="10.18" text-anchor="middle" fill="#2e2e2e" stroke="#2e2e2e" stroke-width="0.15" textLength="109.82" lengthAdjust="spacingAndGlyphs">Sea Surface Temp (°C)</text>
<line x1="392.8" y1="197.3" x2="405.4" y2="197.3" stroke="#e41a1c" stroke-width="2.0"/>
<text x="413.8" y="199.8" font-size="8.16" text-anchor="start" font-weight="normal" fill="#2e2e2e" textLength="15.28" lengthAdjust="spacingAndGlyphs" stroke="#2e2e2e" stroke-width="0.15">GFS</text>
<line x1="392.8" y1="206.35" x2="405.4" y2="206.35" stroke="#ecb715" stroke-width="2.0"/>
<text x="413.8" y="208.85" font-size="8.16" text-anchor="start" font-weight="normal" fill="#2e2e2e" textLength="20.73" lengthAdjust="spacingAndGlyphs" stroke="#2e2e2e" stroke-width="0.15">CTCX</text>
<line x1="392.8" y1="215.4" x2="405.4" y2="215.4" stroke="#3481c4" stroke-width="2.0"/>
<text x="413.8" y="217.9" font-size="8.16" text-anchor="start" font-weight="normal" fill="#2e2e2e" textLength="23.18" lengthAdjust="spacingAndGlyphs" stroke="#2e2e2e" stroke-width="0.15">HWRF</text>
<rect x="385.7" y="427.7" width="297" height="35.5" fill="#cccccc"/>
<rect x="385.7" y="356.7" width="297" height="35.5" fill="#cccccc"/>
<line x1="519.65" y1="356.7" x2="519.65" y2="498.85" stroke="#f0c030" stroke-width="1.4"/>
<line x1="527.08" y1="356.7" x2="527.08" y2="498.85" stroke="#7a95c8" stroke-width="1.6"/>
<svg x="385.7" y="356.7" width="297" height="142.15" overflow="hidden"><g transform="translate(-385.7,-356.7)">
<polyline points="519.65,423.26 527.08,427.7 534.5,430.19 541.93,436.4 549.35,443.14 556.78,437.28 564.2,435.33 571.62,437.82 579.05,444.03 586.48,445.98 593.9,442.08 601.33,447.05 608.75,454.32 616.18,457.88 623.6,455.57 631.03,453.97 638.45,453.97 645.88,456.63 653.3,453.97 660.73,455.57 668.15,458.58 675.58,460.18 683,457.88" fill="none" stroke="#e41a1c" stroke-width="1.9" stroke-linejoin="round" stroke-linecap="round"/>
<circle cx="527.08" cy="427.7" r="2" fill="#e41a1c"/>
<polyline points="519.65,407.29 527.08,404.62 534.5,403.38 541.93,403.38 549.35,408.17 556.78,407.46 564.2,408.17 571.62,408.71 579.05,411.37 586.48,413.5 593.9,414.03 601.33,412.79 608.75,414.56 616.18,412.26 623.6,408.53 631.03,408.17 638.45,410.84 645.88,414.39 653.3,412.79 660.73,412.79 668.15,412.79 675.58,411.55" fill="none" stroke="#ecb715" stroke-width="1.9" stroke-linejoin="round" stroke-linecap="round"/>
<circle cx="519.65" cy="407.29" r="2" fill="#ecb715"/>
<polyline points="519.65,426.63 527.08,425.92 534.5,425.92 541.93,436.4 549.35,441.19 556.78,436.4 564.2,432.14 571.62,432.49 579.05,436.4 586.48,444.03 593.9,450.77 601.33,454.32 608.75,460 616.18,458.76 623.6,461.07 631.03,463.73 638.45,464.44 645.88,463.2 653.3,466.75 660.73,470.3 668.15,472.25 675.58,472.25 683,472.96" fill="none" stroke="#3481c4" stroke-width="1.9" stroke-linejoin="round" stroke-linecap="round"/>
<circle cx="527.08" cy="425.92" r="2" fill="#3481c4"/>
</g></svg>
<rect x="385.7" y="356.7" width="297" height="142.15" fill="none" stroke="#6e6e6e" stroke-width="1.6"/>
<line x1="384" y1="489.82" x2="385.7" y2="489.82" stroke="#6e6e6e" stroke-width="0.8"/>
<line x1="384" y1="480.95" x2="385.7" y2="480.95" stroke="#6e6e6e" stroke-width="0.8"/>
<line x1="384" y1="472.07" x2="385.7" y2="472.07" stroke="#6e6e6e" stroke-width="0.8"/>
<line x1="384" y1="454.32" x2="385.7" y2="454.32" stroke="#6e6e6e" stroke-width="0.8"/>
<line x1="384" y1="445.45" x2="385.7" y2="445.45" stroke="#6e6e6e" stroke-width="0.8"/>
<line x1="384" y1="436.57" x2="385.7" y2="436.57" stroke="#6e6e6e" stroke-width="0.8"/>
<line x1="384" y1="418.82" x2="385.7" y2="418.82" stroke="#6e6e6e" stroke-width="0.8"/>
<line x1="384" y1="409.95" x2="385.7" y2="409.95" stroke="#6e6e6e" stroke-width="0.8"/>
<line x1="384" y1="401.07" x2="385.7" y2="401.07" stroke="#6e6e6e" stroke-width="0.8"/>
<line x1="384" y1="383.32" x2="385.7" y2="383.32" stroke="#6e6e6e" stroke-width="0.8"/>
<line x1="384" y1="374.45" x2="385.7" y2="374.45" stroke="#6e6e6e" stroke-width="0.8"/>
<line x1="384" y1="365.57" x2="385.7" y2="365.57" stroke="#6e6e6e" stroke-width="0.8"/>
<line x1="382.1" y1="498.7" x2="385.7" y2="498.7" stroke="#6e6e6e" stroke-width="1"/>
<text x="378.2" y="500.8" font-size="8.16" text-anchor="end" font-weight="normal" fill="#2e2e2e" textLength="9.8" lengthAdjust="spacingAndGlyphs" stroke="#2e2e2e" stroke-width="0.15">20</text>
<line x1="382.1" y1="463.2" x2="385.7" y2="463.2" stroke="#6e6e6e" stroke-width="1"/>
<text x="378.2" y="465.3" font-size="8.16" text-anchor="end" font-weight="normal" fill="#2e2e2e" textLength="9.8" lengthAdjust="spacingAndGlyphs" stroke="#2e2e2e" stroke-width="0.15">40</text>
<line x1="382.1" y1="427.7" x2="385.7" y2="427.7" stroke="#6e6e6e" stroke-width="1"/>
<text x="378.2" y="429.8" font-size="8.16" text-anchor="end" font-weight="normal" fill="#2e2e2e" textLength="9.8" lengthAdjust="spacingAndGlyphs" stroke="#2e2e2e" stroke-width="0.15">60</text>
<line x1="382.1" y1="392.2" x2="385.7" y2="392.2" stroke="#6e6e6e" stroke-width="1"/>
<text x="378.2" y="394.3" font-size="8.16" text-anchor="end" font-weight="normal" fill="#2e2e2e" textLength="9.8" lengthAdjust="spacingAndGlyphs" stroke="#2e2e2e" stroke-width="0.15">80</text>
<line x1="382.1" y1="356.7" x2="385.7" y2="356.7" stroke="#6e6e6e" stroke-width="1"/>
<text x="378.2" y="358.8" font-size="8.16" text-anchor="end" font-weight="normal" fill="#2e2e2e" textLength="14.7" lengthAdjust="spacingAndGlyphs" stroke="#2e2e2e" stroke-width="0.15">100</text>
<line x1="393.43" y1="498.85" x2="393.43" y2="500.45" stroke="#6e6e6e" stroke-width="0.8"/>
<line x1="400.85" y1="498.85" x2="400.85" y2="502.45" stroke="#6e6e6e" stroke-width="1"/>
<line x1="408.27" y1="498.85" x2="408.27" y2="500.45" stroke="#6e6e6e" stroke-width="0.8"/>
<line x1="415.7" y1="498.85" x2="415.7" y2="500.45" stroke="#6e6e6e" stroke-width="0.8"/>
<line x1="423.12" y1="498.85" x2="423.12" y2="500.45" stroke="#6e6e6e" stroke-width="0.8"/>
<line x1="430.55" y1="498.85" x2="430.55" y2="502.45" stroke="#6e6e6e" stroke-width="1"/>
<line x1="437.98" y1="498.85" x2="437.98" y2="500.45" stroke="#6e6e6e" stroke-width="0.8"/>
<line x1="445.4" y1="498.85" x2="445.4" y2="500.45" stroke="#6e6e6e" stroke-width="0.8"/>
<line x1="452.83" y1="498.85" x2="452.83" y2="500.45" stroke="#6e6e6e" stroke-width="0.8"/>
<line x1="460.25" y1="498.85" x2="460.25" y2="502.45" stroke="#6e6e6e" stroke-width="1"/>
<line x1="467.68" y1="498.85" x2="467.68" y2="500.45" stroke="#6e6e6e" stroke-width="0.8"/>
<line x1="475.1" y1="498.85" x2="475.1" y2="500.45" stroke="#6e6e6e" stroke-width="0.8"/>
<line x1="482.53" y1="498.85" x2="482.53" y2="500.45" stroke="#6e6e6e" stroke-width="0.8"/>
<line x1="489.95" y1="498.85" x2="489.95" y2="502.45" stroke="#6e6e6e" stroke-width="1"/>
<line x1="497.38" y1="498.85" x2="497.38" y2="500.45" stroke="#6e6e6e" stroke-width="0.8"/>
<line x1="504.8" y1="498.85" x2="504.8" y2="500.45" stroke="#6e6e6e" stroke-width="0.8"/>
<line x1="512.23" y1="498.85" x2="512.23" y2="500.45" stroke="#6e6e6e" stroke-width="0.8"/>
<line x1="519.65" y1="498.85" x2="519.65" y2="502.45" stroke="#6e6e6e" stroke-width="1"/>
<line x1="527.08" y1="498.85" x2="527.08" y2="500.45" stroke="#6e6e6e" stroke-width="0.8"/>
<line x1="534.5" y1="498.85" x2="534.5" y2="500.45" stroke="#6e6e6e" stroke-width="0.8"/>
<line x1="541.93" y1="498.85" x2="541.93" y2="500.45" stroke="#6e6e6e" stroke-width="0.8"/>
<line x1="549.35" y1="498.85" x2="549.35" y2="502.45" stroke="#6e6e6e" stroke-width="1"/>
<line x1="556.78" y1="498.85" x2="556.78" y2="500.45" stroke="#6e6e6e" stroke-width="0.8"/>
<line x1="564.2" y1="498.85" x2="564.2" y2="500.45" stroke="#6e6e6e" stroke-width="0.8"/>
<line x1="571.62" y1="498.85" x2="571.62" y2="500.45" stroke="#6e6e6e" stroke-width="0.8"/>
<line x1="579.05" y1="498.85" x2="579.05" y2="502.45" stroke="#6e6e6e" stroke-width="1"/>
<line x1="586.48" y1="498.85" x2="586.48" y2="500.45" stroke="#6e6e6e" stroke-width="0.8"/>
<line x1="593.9" y1="498.85" x2="593.9" y2="500.45" stroke="#6e6e6e" stroke-width="0.8"/>
<line x1="601.33" y1="498.85" x2="601.33" y2="500.45" stroke="#6e6e6e" stroke-width="0.8"/>
<line x1="608.75" y1="498.85" x2="608.75" y2="502.45" stroke="#6e6e6e" stroke-width="1"/>
<line x1="616.18" y1="498.85" x2="616.18" y2="500.45" stroke="#6e6e6e" stroke-width="0.8"/>
<line x1="623.6" y1="498.85" x2="623.6" y2="500.45" stroke="#6e6e6e" stroke-width="0.8"/>
<line x1="631.03" y1="498.85" x2="631.03" y2="500.45" stroke="#6e6e6e" stroke-width="0.8"/>
<line x1="638.45" y1="498.85" x2="638.45" y2="502.45" stroke="#6e6e6e" stroke-width="1"/>
<line x1="645.88" y1="498.85" x2="645.88" y2="500.45" stroke="#6e6e6e" stroke-width="0.8"/>
<line x1="653.3" y1="498.85" x2="653.3" y2="500.45" stroke="#6e6e6e" stroke-width="0.8"/>
<line x1="660.73" y1="498.85" x2="660.73" y2="500.45" stroke="#6e6e6e" stroke-width="0.8"/>
<line x1="668.15" y1="498.85" x2="668.15" y2="502.45" stroke="#6e6e6e" stroke-width="1"/>
<line x1="675.58" y1="498.85" x2="675.58" y2="500.45" stroke="#6e6e6e" stroke-width="0.8"/>
<text x="400.85" y="512.25" font-size="8.16" text-anchor="middle" font-weight="normal" fill="#2e2e2e" textLength="24.83" lengthAdjust="spacingAndGlyphs" stroke="#2e2e2e" stroke-width="0.15">20Nov</text>
<text x="400.85" y="521.15" font-size="8.16" text-anchor="middle" font-weight="normal" fill="#2e2e2e" textLength="13.84" lengthAdjust="spacingAndGlyphs" stroke="#2e2e2e" stroke-width="0.15">00z</text>
<text x="430.55" y="512.25" font-size="8.16" text-anchor="middle" font-weight="normal" fill="#2e2e2e" textLength="24.83" lengthAdjust="spacingAndGlyphs" stroke="#2e2e2e" stroke-width="0.15">21Nov</text>
<text x="430.55" y="521.15" font-size="8.16" text-anchor="middle" font-weight="normal" fill="#2e2e2e" textLength="13.84" lengthAdjust="spacingAndGlyphs" stroke="#2e2e2e" stroke-width="0.15">00z</text>
<text x="460.25" y="512.25" font-size="8.16" text-anchor="middle" font-weight="normal" fill="#2e2e2e" textLength="24.83" lengthAdjust="spacingAndGlyphs" stroke="#2e2e2e" stroke-width="0.15">22Nov</text>
<text x="460.25" y="521.15" font-size="8.16" text-anchor="middle" font-weight="normal" fill="#2e2e2e" textLength="13.84" lengthAdjust="spacingAndGlyphs" stroke="#2e2e2e" stroke-width="0.15">00z</text>
<text x="489.95" y="512.25" font-size="8.16" text-anchor="middle" font-weight="normal" fill="#2e2e2e" textLength="24.83" lengthAdjust="spacingAndGlyphs" stroke="#2e2e2e" stroke-width="0.15">23Nov</text>
<text x="489.95" y="521.15" font-size="8.16" text-anchor="middle" font-weight="normal" fill="#2e2e2e" textLength="13.84" lengthAdjust="spacingAndGlyphs" stroke="#2e2e2e" stroke-width="0.15">00z</text>
<text x="519.65" y="512.25" font-size="8.16" text-anchor="middle" font-weight="normal" fill="#2e2e2e" textLength="24.83" lengthAdjust="spacingAndGlyphs" stroke="#2e2e2e" stroke-width="0.15">24Nov</text>
<text x="519.65" y="521.15" font-size="8.16" text-anchor="middle" font-weight="normal" fill="#2e2e2e" textLength="13.84" lengthAdjust="spacingAndGlyphs" stroke="#2e2e2e" stroke-width="0.15">00z</text>
<text x="549.35" y="512.25" font-size="8.16" text-anchor="middle" font-weight="normal" fill="#2e2e2e" textLength="24.83" lengthAdjust="spacingAndGlyphs" stroke="#2e2e2e" stroke-width="0.15">25Nov</text>
<text x="549.35" y="521.15" font-size="8.16" text-anchor="middle" font-weight="normal" fill="#2e2e2e" textLength="13.84" lengthAdjust="spacingAndGlyphs" stroke="#2e2e2e" stroke-width="0.15">00z</text>
<text x="579.05" y="512.25" font-size="8.16" text-anchor="middle" font-weight="normal" fill="#2e2e2e" textLength="24.83" lengthAdjust="spacingAndGlyphs" stroke="#2e2e2e" stroke-width="0.15">26Nov</text>
<text x="579.05" y="521.15" font-size="8.16" text-anchor="middle" font-weight="normal" fill="#2e2e2e" textLength="13.84" lengthAdjust="spacingAndGlyphs" stroke="#2e2e2e" stroke-width="0.15">00z</text>
<text x="608.75" y="512.25" font-size="8.16" text-anchor="middle" font-weight="normal" fill="#2e2e2e" textLength="24.83" lengthAdjust="spacingAndGlyphs" stroke="#2e2e2e" stroke-width="0.15">27Nov</text>
<text x="608.75" y="521.15" font-size="8.16" text-anchor="middle" font-weight="normal" fill="#2e2e2e" textLength="13.84" lengthAdjust="spacingAndGlyphs" stroke="#2e2e2e" stroke-width="0.15">00z</text>
<text x="638.45" y="512.25" font-size="8.16" text-anchor="middle" font-weight="normal" fill="#2e2e2e" textLength="24.83" lengthAdjust="spacingAndGlyphs" stroke="#2e2e2e" stroke-width="0.15">28Nov</text>
<text x="638.45" y="521.15" font-size="8.16" text-anchor="middle" font-weight="normal" fill="#2e2e2e" textLength="13.84" lengthAdjust="spacingAndGlyphs" stroke="#2e2e2e" stroke-width="0.15">00z</text>
<text x="668.15" y="512.25" font-size="8.16" text-anchor="middle" font-weight="normal" fill="#2e2e2e" textLength="24.83" lengthAdjust="spacingAndGlyphs" stroke="#2e2e2e" stroke-width="0.15">29Nov</text>
<text x="668.15" y="521.15" font-size="8.16" text-anchor="middle" font-weight="normal" fill="#2e2e2e" textLength="13.84" lengthAdjust="spacingAndGlyphs" stroke="#2e2e2e" stroke-width="0.15">00z</text>
<text x="679.5" y="365.8" font-size="10.45" text-anchor="end" font-weight="bold" fill="#2e2e2e" textLength="70.42" lengthAdjust="spacingAndGlyphs" stroke="#2e2e2e" stroke-width="0.31">Mid-Level RH</text>
<text transform="translate(362.4,427.7) rotate(-90)" font-size="10.18" text-anchor="middle" fill="#2e2e2e" stroke="#2e2e2e" stroke-width="0.15" textLength="127.16" lengthAdjust="spacingAndGlyphs">700-500 hPa Humidity (%)</text>
<line x1="392.8" y1="471.4" x2="405.4" y2="471.4" stroke="#e41a1c" stroke-width="2.0"/>
<text x="413.8" y="473.9" font-size="8.16" text-anchor="start" font-weight="normal" fill="#2e2e2e" textLength="15.28" lengthAdjust="spacingAndGlyphs" stroke="#2e2e2e" stroke-width="0.15">GFS</text>
<line x1="392.8" y1="480.5" x2="405.4" y2="480.5" stroke="#ecb715" stroke-width="2.0"/>
<text x="413.8" y="483" font-size="8.16" text-anchor="start" font-weight="normal" fill="#2e2e2e" textLength="20.73" lengthAdjust="spacingAndGlyphs" stroke="#2e2e2e" stroke-width="0.15">CTCX</text>
<line x1="392.8" y1="489.6" x2="405.4" y2="489.6" stroke="#3481c4" stroke-width="2.0"/>
<text x="413.8" y="492.1" font-size="8.16" text-anchor="start" font-weight="normal" fill="#2e2e2e" textLength="23.18" lengthAdjust="spacingAndGlyphs" stroke="#2e2e2e" stroke-width="0.15">HWRF</text>
<svg x="38.75" y="195.65" width="296.7" height="296.65" overflow="hidden"><g transform="translate(-38.75,-195.65)">
<polygon points="41,249 46,251 52,255 58,258 62,261 61,263.5 56,261.5 50,258 44,254 40,250.5" fill="#cbcbcb"/>
<polygon points="58,275 62,274 68,276.5 74,279 75.5,282 70,283 63,281.5 59,279" fill="#cbcbcb"/>
<polygon points="73,260.7 75.9,262.9 78.7,268.6 80.9,273.6 83.7,277.1 86.6,280.7 85.9,281.7 82.3,278.6 78.7,274.3 75.1,270.7 73.7,265.7" fill="#cbcbcb"/>
<polygon points="49.8,270.3 51,270.6 50.8,271.4 49.6,271.1" fill="#cbcbcb"/>
<polygon points="62.2,420 62.9,420.5 62.7,422 62,421.6" fill="#cbcbcb"/>
<polygon points="83,288 87,288.5 93,292.5 97.5,296.5 96,298 90,296 85,292" fill="#cbcbcb"/>
<polygon points="65,270 68,270.5 69,272 66,271.5" fill="#cbcbcb"/>
<polygon points="63,306.5 67,308.5 71.8,311.2 71,312 66,310 62.5,307.5" fill="#cbcbcb"/>
<polygon points="149,296.5 152.5,295 153,296.5 150,297.5" fill="#cbcbcb"/>
<polygon points="165.2,309 166.3,309.3 166,310 165,309.8" fill="#cbcbcb"/>
<polygon points="161.1,354.2 163,357.6 164.5,360.7 166.4,358.4 168.3,358 169.5,362.2 170.6,366.4 168.7,368.7 164.1,368.7 162.2,365.2 160.7,358.4" fill="#cbcbcb"/>
<polygon points="170.2,372.5 172.1,373.6 174.8,376.7 177.9,380.5 177.1,382.4 174,382 172.9,379 170.6,375.5" fill="#cbcbcb"/>
<polygon points="178.6,364.5 180.9,365.2 180.5,366.2 178.4,365.6" fill="#cbcbcb"/>
<polygon points="181.7,376 185.5,378 185,379.3 182,377.6" fill="#cbcbcb"/>
<polygon points="184,359.5 185.8,361 186.5,366.5 185,366" fill="#cbcbcb"/>
<polygon points="185,376 187.5,379 189,384 187.5,385.5 185.5,381" fill="#cbcbcb"/>
<polygon points="185.5,397 189,397.5 191,400 188,401 185.5,400" fill="#cbcbcb"/>
<polygon points="196.8,413.5 200,414.5 201.8,417.5 199,417.3 197,415.5" fill="#cbcbcb"/>
<polygon points="200.5,423.5 202,424 203.2,427.5 201.5,427" fill="#cbcbcb"/>
<polygon points="174.3,342 175.6,342.5 175.2,343.6 174,343.2" fill="#cbcbcb"/>
<polygon points="175,347.5 176.2,348 175.8,349.3 174.7,349" fill="#cbcbcb"/>
<polygon points="123,435 125.3,437.2 128.4,437.6 132.2,439.9 135.2,443.3 140.2,445.2 142.9,448.3 145.9,451.3 150.5,453.6 155,455.9 160.4,459 165,462.8 167.6,465.8 167.2,468.1 163.4,467.7 158.1,465 153.5,462 149,459.7 144.4,457.4 139.8,454.4 136,452.1 133,449 129.1,445.2 126.1,441.4 124.2,437.6" fill="#cbcbcb"/>
<polygon points="161,439.5 162,440 161.8,443.5 160.8,443" fill="#cbcbcb"/>
<polygon points="168,444 170,444.5 171.3,448.5 170,449.8 168,447.5" fill="#cbcbcb"/>
<polygon points="180,454 182.5,455 184,457.3 181.5,457" fill="#cbcbcb"/>
<polygon points="174.5,471 175.5,471.2 175.3,472.3 174.3,472" fill="#cbcbcb"/>
<polygon points="208,436 209,436.2 208.8,437 207.8,436.8" fill="#cbcbcb"/>
<polygon points="320,402.5 322,397.5 326,394.8 332,393.2 336,393 336,408 330,407.6 324,406.4 320.3,405" fill="#cbcbcb"/>
<polygon points="330.5,420.8 333,419.2 335,418.5 334.5,420 331,421.4" fill="#cbcbcb"/>
<polyline points="107.1,233.6 108.6,239.3 118.6,242.1 128,242.6 137.9,244 148,246.8 157.9,250.7 165,255.5 172.1,261.4 180,275 184.3,287.9 194,288 197.5,287" fill="none" stroke="#1f1f1f" stroke-width="1.8" stroke-linejoin="round" stroke-linecap="round"/>
<polyline points="194,289.3 198.8,296.9 203.3,315.3 210.7,319.3 214.5,330 214,346 210.5,354.5 208,364 207.5,368.5 207,374 203,374 199,373 196,371 188.5,370 185,365 177,359.5" fill="none" stroke="#e41a1c" stroke-width="1.8" stroke-linejoin="round" stroke-linecap="round"/>
<polyline points="183.6,288.3 192,292 199.3,295 204.7,300 210,310.7 213.3,325.3 212,336 209.3,342.7 210,353.3 210.5,354.5 200,360 196,370 190,375.5 184,381.5 179,387 178.1,394 174.7,394 166.6,397.8 162.7,400.4 157.6,399.8 150.7,398.7 144.3,397.8 137.4,394.4" fill="none" stroke="#ecb715" stroke-width="1.8" stroke-linejoin="round" stroke-linecap="round"/>
<polyline points="197.4,285.5 207.9,296.9 210,313.3 210.7,319.3 215.3,328.7 226.7,335.3 236,346 228.7,356.7 227,368 216.5,377.5 205,387.5 200,395 181,393.5 175.6,385.4 166.6,378.6" fill="none" stroke="#3481c4" stroke-width="1.8" stroke-linejoin="round" stroke-linecap="round"/>
<polyline points="197.9,287.4 202.5,296.3 209,306 215,317.6 218.1,332.9 219,350 216.7,369.5 234.5,382" fill="none" stroke="#707070" stroke-width="1.8" stroke-linejoin="round" stroke-linecap="round"/>
<circle cx="107.1" cy="233.6" r="2.25" fill="#1f1f1f"/>
<circle cx="108.6" cy="239.3" r="1.95" fill="#fff" stroke="#1f1f1f" stroke-width="0.9"/>
<circle cx="118.6" cy="242.1" r="2.25" fill="#1f1f1f"/>
<circle cx="137.9" cy="244" r="1.95" fill="#fff" stroke="#1f1f1f" stroke-width="0.9"/>
<circle cx="157.9" cy="250.7" r="2.25" fill="#1f1f1f"/>
<circle cx="180" cy="275" r="1.95" fill="#fff" stroke="#1f1f1f" stroke-width="0.9"/>
<circle cx="198.8" cy="296.9" r="1.95" fill="#fff" stroke="#1f1f1f" stroke-width="0.9"/>
<circle cx="203.3" cy="315.3" r="2.25" fill="#1f1f1f"/>
<circle cx="210.7" cy="319.3" r="2.25" fill="#1f1f1f"/>
<circle cx="214" cy="346" r="2.25" fill="#1f1f1f"/>
<circle cx="210.5" cy="354.5" r="2.25" fill="#1f1f1f"/>
<circle cx="208" cy="364" r="2.25" fill="#1f1f1f"/>
<circle cx="207.5" cy="368.5" r="1.95" fill="#fff" stroke="#1f1f1f" stroke-width="0.9"/>
<circle cx="203" cy="374" r="2.25" fill="#1f1f1f"/>
<circle cx="199" cy="373" r="1.95" fill="#fff" stroke="#1f1f1f" stroke-width="0.9"/>
<circle cx="196" cy="371" r="1.95" fill="#fff" stroke="#1f1f1f" stroke-width="0.9"/>
<circle cx="188.5" cy="370" r="2.25" fill="#1f1f1f"/>
<circle cx="177" cy="359.5" r="1.95" fill="#fff" stroke="#1f1f1f" stroke-width="0.9"/>
<circle cx="202.1" cy="296" r="1.95" fill="#fff" stroke="#1f1f1f" stroke-width="0.9"/>
<circle cx="207.9" cy="296.9" r="1.95" fill="#fff" stroke="#1f1f1f" stroke-width="0.9"/>
<circle cx="212" cy="336" r="1.95" fill="#fff" stroke="#1f1f1f" stroke-width="0.9"/>
<circle cx="226.7" cy="335.3" r="1.95" fill="#fff" stroke="#1f1f1f" stroke-width="0.9"/>
<circle cx="215.3" cy="328.7" r="1.95" fill="#fff" stroke="#1f1f1f" stroke-width="0.9"/>
<circle cx="236" cy="346" r="2.25" fill="#1f1f1f"/>
<circle cx="228.7" cy="356.7" r="1.95" fill="#fff" stroke="#1f1f1f" stroke-width="0.9"/>
<circle cx="227" cy="368" r="2.25" fill="#1f1f1f"/>
<circle cx="216.5" cy="377.5" r="1.95" fill="#fff" stroke="#1f1f1f" stroke-width="0.9"/>
<circle cx="205" cy="387.5" r="2.25" fill="#1f1f1f"/>
<circle cx="200" cy="395" r="1.95" fill="#fff" stroke="#1f1f1f" stroke-width="0.9"/>
<circle cx="181" cy="393.5" r="2.25" fill="#1f1f1f"/>
<circle cx="166.6" cy="378.6" r="1.95" fill="#fff" stroke="#1f1f1f" stroke-width="0.9"/>
<circle cx="184" cy="381.5" r="2.25" fill="#1f1f1f"/>
<circle cx="178.1" cy="394" r="1.95" fill="#fff" stroke="#1f1f1f" stroke-width="0.9"/>
<circle cx="166.6" cy="397.8" r="2.25" fill="#1f1f1f"/>
<circle cx="157.6" cy="399.8" r="1.95" fill="#fff" stroke="#1f1f1f" stroke-width="0.9"/>
<circle cx="144.3" cy="397.8" r="2.25" fill="#1f1f1f"/>
<circle cx="194" cy="289.3" r="2.6" fill="#e41a1c"/>
<circle cx="183.6" cy="288.3" r="2.6" fill="#ecb715"/>
<circle cx="197.4" cy="285.5" r="2.6" fill="#3481c4"/>
<circle cx="197.9" cy="288" r="2.3" fill="#707070"/>
</g></svg>
<rect x="38.75" y="195.65" width="296.7" height="296.65" fill="none" stroke="#6e6e6e" stroke-width="1.6"/>
<text x="331.8" y="206.5" font-size="10.45" text-anchor="end" font-weight="bold" fill="#2e2e2e" textLength="29.53" lengthAdjust="spacingAndGlyphs" stroke="#2e2e2e" stroke-width="0.31">Track</text>
<line x1="44.8" y1="203.7" x2="58.4" y2="203.7" stroke="#1f1f1f" stroke-width="2.0"/>
<text x="67" y="206.2" font-size="8.16" text-anchor="start" font-weight="normal" fill="#2e2e2e" textLength="19.74" lengthAdjust="spacingAndGlyphs" stroke="#2e2e2e" stroke-width="0.15">BEST</text>
<line x1="44.8" y1="212.8" x2="58.4" y2="212.8" stroke="#e41a1c" stroke-width="2.0"/>
<text x="67" y="215.3" font-size="8.16" text-anchor="start" font-weight="normal" fill="#2e2e2e" textLength="15.28" lengthAdjust="spacingAndGlyphs" stroke="#2e2e2e" stroke-width="0.15">GFS</text>
<line x1="44.8" y1="221.9" x2="58.4" y2="221.9" stroke="#ecb715" stroke-width="2.0"/>
<text x="67" y="224.4" font-size="8.16" text-anchor="start" font-weight="normal" fill="#2e2e2e" textLength="20.73" lengthAdjust="spacingAndGlyphs" stroke="#2e2e2e" stroke-width="0.15">CTCX</text>
<line x1="44.8" y1="231" x2="58.4" y2="231" stroke="#3481c4" stroke-width="2.0"/>
<text x="67" y="233.5" font-size="8.16" text-anchor="start" font-weight="normal" fill="#2e2e2e" textLength="23.18" lengthAdjust="spacingAndGlyphs" stroke="#2e2e2e" stroke-width="0.15">HWRF</text>
<line x1="44.8" y1="240.1" x2="58.4" y2="240.1" stroke="#707070" stroke-width="2.0"/>
<text x="67" y="242.6" font-size="8.16" text-anchor="start" font-weight="normal" fill="#2e2e2e" textLength="19.96" lengthAdjust="spacingAndGlyphs" stroke="#2e2e2e" stroke-width="0.15">JTWC</text>
<text x="35" y="213.38" font-size="8.16" text-anchor="end" font-weight="normal" fill="#2e2e2e" textLength="13.64" lengthAdjust="spacingAndGlyphs" stroke="#2e2e2e" stroke-width="0.15">5°S</text>
<text x="35" y="287.53" font-size="8.16" text-anchor="end" font-weight="normal" fill="#2e2e2e" textLength="18.54" lengthAdjust="spacingAndGlyphs" stroke="#2e2e2e" stroke-width="0.15">10°S</text>
<text x="35" y="361.68" font-size="8.16" text-anchor="end" font-weight="normal" fill="#2e2e2e" textLength="18.54" lengthAdjust="spacingAndGlyphs" stroke="#2e2e2e" stroke-width="0.15">15°S</text>
<text x="35" y="435.83" font-size="8.16" text-anchor="end" font-weight="normal" fill="#2e2e2e" textLength="18.54" lengthAdjust="spacingAndGlyphs" stroke="#2e2e2e" stroke-width="0.15">20°S</text>
<text x="63.96" y="507.9" font-size="8.16" text-anchor="middle" font-weight="normal" fill="#2e2e2e" textLength="23.41" lengthAdjust="spacingAndGlyphs" stroke="#2e2e2e" stroke-width="0.15">160°E</text>
<text x="138.11" y="507.9" font-size="8.16" text-anchor="middle" font-weight="normal" fill="#2e2e2e" textLength="23.41" lengthAdjust="spacingAndGlyphs" stroke="#2e2e2e" stroke-width="0.15">165°E</text>
<text x="212.26" y="507.9" font-size="8.16" text-anchor="middle" font-weight="normal" fill="#2e2e2e" textLength="23.41" lengthAdjust="spacingAndGlyphs" stroke="#2e2e2e" stroke-width="0.15">170°E</text>
<text x="286.41" y="507.9" font-size="8.16" text-anchor="middle" font-weight="normal" fill="#2e2e2e" textLength="23.41" lengthAdjust="spacingAndGlyphs" stroke="#2e2e2e" stroke-width="0.15">175°E</text>
<g>
<circle cx="8.6" cy="514.5" r="6.6" fill="#1c2c80"/>
<circle cx="9.5" cy="514.5" r="4.6" fill="#5a78a8"/>
<circle cx="8.6" cy="513.3" r="1.6" fill="#7da08a"/>
<circle cx="10.6" cy="516.2" r="1.4" fill="#3a5c90"/>
<path d="M13.5 510.5 a6.6 6.6 0 0 1 1 2 l-1.5 0z" fill="#fff" opacity="0"/>
<rect x="15.8" y="507.5" width="2.9" height="14.2" fill="#1f3590"/>
<rect x="16.7" y="509" width="1.1" height="11" fill="#3f60b0" opacity="0.6"/>
<path d="M20.8 507.5 h5 a3.8 3.8 0 0 1 1.2 7.3 l4.3 6.9 h-3.6 l-3.7 -6.3 h-0.4 v6.3 h-2.8z M23.6 509.8 v3.9 h1.6 a1.95 1.95 0 0 0 0 -3.9z" fill="#2450a0" fill-rule="evenodd"/>
<path d="M28.6 521.7 L36.7 508 L43 521.7 h-3.5 l-1.4 -3.2 l-3.2 0 l-1.9 3.2z M36.6 512.3 l-1.3 4.6 l2.2 0z" fill="#1f4898" fill-rule="evenodd"/>
<circle cx="52.4" cy="514.7" r="8.6" fill="#2f8fdf"/>
<path d="M43.9 516.5 l2.2 -1.4 l2.5 -1.2 l2.2 0.9 l1.6 -0.6 l2.4 -1.4 l2.6 1.2 l3.4 1.5 a8.6 8.6 0 0 1 -16.9 1z" fill="#4640a2"/>
<path d="M45.5 519.5 h13.8 M46.5 521 h11.8" stroke="#8a88d8" stroke-width="0.6"/>
<ellipse cx="48.6" cy="512.8" rx="2.6" ry="0.95" fill="#fff"/>
<ellipse cx="54.8" cy="511.2" rx="2.6" ry="1.05" fill="#fff"/>
</g>
</svg></body></html>
